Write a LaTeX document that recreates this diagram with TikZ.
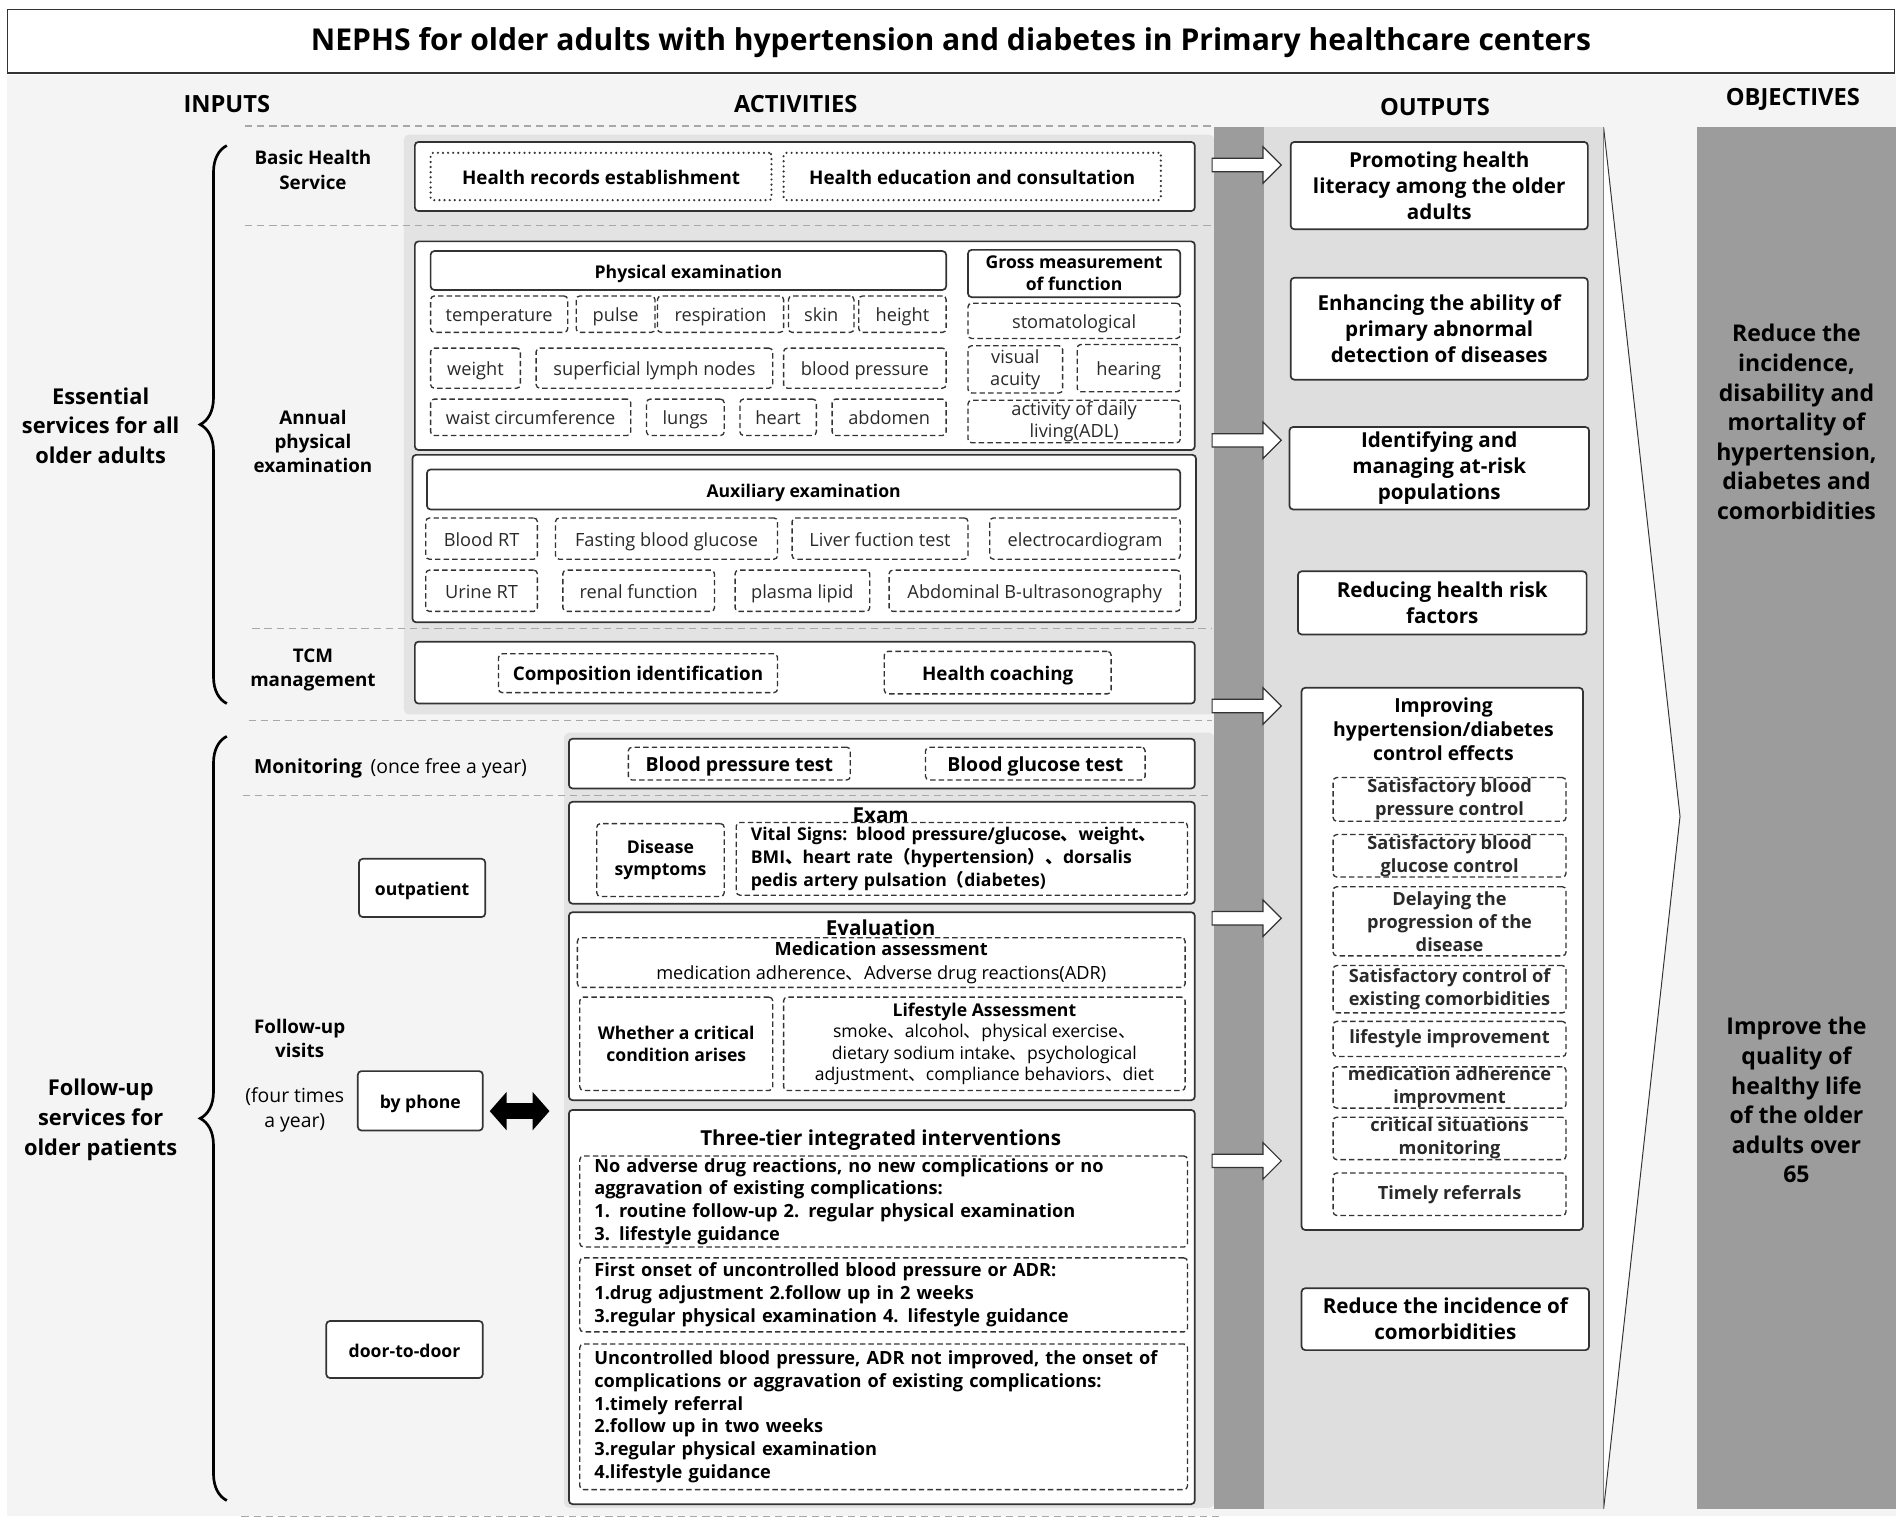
\documentclass[tikz,border=0pt]{standalone}
\usepackage{fontspec}
\setmainfont{Open Sans}
\newfontfamily\cjk{Noto Sans CJK SC}
\usetikzlibrary{shapes.arrows,decorations.pathreplacing,arrows.meta}

\definecolor{bgcol}{HTML}{F4F4F4}
\definecolor{panelcol}{HTML}{E3E3E3}
\definecolor{outcol}{HTML}{DEDEDE}
\definecolor{darkcol}{HTML}{9C9C9C}
\definecolor{linecol}{HTML}{333333}
\definecolor{sepcol}{HTML}{A8A8A8}
\definecolor{txtcol}{HTML}{2A2A2A}

\newcommand{\fsz}[2]{\fontsize{#1}{#2}\selectfont}
\newcommand{\zcomma}{{\cjk 、}}
\newcommand{\zlparen}{{\cjk （}}
\newcommand{\zrparen}{{\cjk ）}}

\begin{document}
\begin{tikzpicture}[x=1pt,y=-1pt,
    solidbox/.style={draw=linecol,line width=1.4pt,fill=white,rounded corners=3pt,inner sep=0pt,align=center},
    dashbox/.style={draw=linecol,line width=1.1pt,dash pattern=on 4.5pt off 2.6pt,rounded corners=3pt,inner sep=0pt,align=center},
    dotbox/.style={draw=linecol,line width=2pt,dash pattern=on 0pt off 4.2pt,line cap=round,rounded corners=2pt,inner sep=0pt,align=center},
    oneline/.style={text height=14pt,text depth=1.5pt},
    sepline/.style={draw=sepcol,line width=1.1pt,dash pattern=on 6pt off 4pt},
    hollowarrow/.style={single arrow,draw=linecol,fill=white,line width=1pt,inner xsep=0pt,inner ysep=5pt,
      minimum height=57,minimum width=29,single arrow head extend=9.5,single arrow tip angle=90},
    fatdouble/.style={line width=13pt,{Triangle[length=14pt,width=31pt]}-{Triangle[length=14pt,width=31pt]}},
    titlef/.style={font=\fsz{24.8}{28}\bfseries},
    headf/.style={font=\fsz{19.5}{23}\bfseries},
    bigf/.style={font=\fsz{18}{24.5}\bfseries,align=center},
    objf/.style={font=\fsz{19}{24.4}\bfseries,align=center},
    secf/.style={font=\fsz{15.5}{20}\bfseries,align=center},
    boxf/.style={font=\fsz{15.5}{19}\bfseries},
    subf/.style={font=\fsz{14.5}{18}\bfseries},
    itemf/.style={font=\fsz{15}{18},text=txtcol},
    outf/.style={font=\fsz{17}{21.5}\bfseries},
    tierf/.style={font=\fsz{15}{18.7}\bfseries},
  ]
\useasboundingbox (0,0) rectangle (1568,1255.5);

% title and background
\node[draw=linecol,line width=1.2pt,minimum width=1556,minimum height=52,inner sep=0pt,titlef,text height=21pt,text depth=5pt] (title) at (784,34)
  {NEPHS for older adults with hypertension and diabetes in Primary healthcare centers};
\fill[bgcol] (6,62) rectangle (1563,1250);
\fill[panelcol,rounded corners=4pt] (333,111) rectangle (1001,589);
\fill[panelcol,rounded corners=4pt] (465,604) rectangle (1001,1243);
\fill[darkcol] (1001,105) rectangle (1042,1244);
\fill[outcol] (1042,105) rectangle (1322,1244);
\fill[darkcol] (1399,105) rectangle (1563,1244);
\filldraw[fill=white,draw=linecol,line width=0.8pt] (1322,105) -- (1385,673) -- (1322,1244);
\draw[gray,line width=0.8pt] (1322,105) -- (1322,1244);

\foreach \y/\xa in {104/202,186/202,518/208,594/205,656/200}
  \draw[sepline] (\xa,\y) -- (999,\y);
\draw[sepline] (199,1250) -- (1008,1250);

% column heads
\node[headf] (hinput) at (187,86) {INPUTS};
\node[headf] (hactiv) at (656,86) {ACTIVITIES};
\node[headf] (houtput) at (1183,88) {OUTPUTS};
\node[headf] (hobject) at (1478,82) {OBJECTIVES};

% inputs
\node[bigf] (essential) at (83,351) {Essential\\services for all\\older adults};
\node[bigf] (followup) at (83,923) {Follow-up\\services for\\older patients};
\coordinate (braceAtop) at (187,120);
\coordinate (braceAbot) at (187,580);
\coordinate (braceBtop) at (187,607);
\coordinate (braceBbot) at (187,1237);
\draw[line width=2.2pt,decorate,decoration={brace,amplitude=22pt}] (braceAbot) -- (braceAtop);
\draw[line width=2.2pt,decorate,decoration={brace,amplitude=22pt}] (braceBbot) -- (braceBtop);

\node[secf] (basiclab) at (258,140) {Basic Health\\Service};
\node[secf] (annuallab) at (258,364) {Annual\\physical\\examination};
\node[secf] (tcmlab) at (258,552) {TCM\\management};
\node[anchor=west,font=\fsz{16}{20},oneline] (monlab) at (206,631) {{\bfseries Monitoring}\hspace{7pt}(once free a year)};
\node[secf] (visitlab) at (247,856) {Follow-up\\visits};
\node[font=\fsz{16}{20},align=center] (timeslab) at (243,915) {(four times\\a year)};

\node[solidbox,subf,oneline,minimum width=104,minimum height=48] (outpat) at (348,732) {outpatient};
\node[solidbox,subf,oneline,minimum width=103,minimum height=49] (phone) at (346.5,907.5) {by phone};
\node[solidbox,subf,oneline,minimum width=129,minimum height=47] (door) at (333.5,1112.5) {door-to-door};

% basic health service
\node[solidbox,minimum width=643,minimum height=57] (basic) at (663.5,145.5) {};
\node[dotbox,boxf,oneline,minimum width=281,minimum height=39] (records) at (495.5,145.5) {Health records establishment};
\node[dotbox,boxf,oneline,minimum width=311,minimum height=39] (educ) at (801.5,145.5) {Health education and consultation};

% annual physical examination
\node[solidbox,minimum width=643,minimum height=172] (annual) at (663.5,285) {};
\node[solidbox,subf,oneline,minimum width=425,minimum height=32] (physhead) at (567.5,223) {Physical examination};
\node[solidbox,subf,minimum width=175,minimum height=39] (grosshead) at (885.5,225.5) {Gross measurement\\of function};
\foreach \nm/\cx/\w/\txt in {temp/411.5/113/temperature,pulse/507.5/65/pulse,resp/594/104/respiration,
    skin/677/54/skin,height/744/72/height}
  \node[dashbox,itemf,oneline,minimum width=\w,minimum height=30] (\nm) at (\cx,259) {\txt};
\foreach \nm/\cx/\w/\txt in {weight/392/74/weight,lymph/539.5/195/superficial lymph nodes,bp/713/134/blood pressure}
  \node[dashbox,itemf,oneline,minimum width=\w,minimum height=33] (\nm) at (\cx,303.5) {\txt};
\foreach \nm/\cx/\w/\txt in {waist/437.5/165/waist circumference,lungs/565/64/lungs,heart/641.5/63/heart,abdomen/733/94/abdomen}
  \node[dashbox,itemf,oneline,minimum width=\w,minimum height=30] (\nm) at (\cx,344) {\txt};
\node[dashbox,itemf,oneline,minimum width=175,minimum height=29] (stomat) at (885.5,264.5) {stomatological};
\node[dashbox,itemf,minimum width=78,minimum height=39] (visual) at (837,304.5) {visual\\acuity};
\node[dashbox,itemf,oneline,minimum width=85,minimum height=39] (hearing) at (930.5,303.5) {hearing};
\node[dashbox,itemf,minimum width=175,minimum height=35] (adl) at (885.5,347.5) {activity of daily\\living(ADL)};

% auxiliary examination
\node[solidbox,minimum width=646,minimum height=138] (aux) at (663,444) {};
\node[solidbox,subf,oneline,minimum width=621,minimum height=33] (auxhead) at (662.5,403.5) {Auxiliary examination};
\foreach \nm/\cx/\w/\txt in {bloodrt/397/92/Blood RT,fbg/549.5/183/Fasting blood glucose,
    liver/725.5/145/Liver fuction test,ecg/894.5/157/electrocardiogram}
  \node[dashbox,itemf,oneline,minimum width=\w,minimum height=34] (\nm) at (\cx,444) {\txt};
\foreach \nm/\cx/\w/\txt in {urine/397/92/Urine RT,renal/526.5/125/renal function,
    lipid/661.5/111/plasma lipid,bus/853/240/Abdominal B-ultrasonography}
  \node[dashbox,itemf,oneline,minimum width=\w,minimum height=34] (\nm) at (\cx,487) {\txt};

% TCM management
\node[solidbox,minimum width=643,minimum height=51] (tcm) at (663.5,554.5) {};
\node[dashbox,boxf,oneline,minimum width=230,minimum height=32] (compid) at (526,555) {Composition identification};
\node[dashbox,boxf,oneline,minimum width=187,minimum height=35] (coach) at (822.5,554.5) {Health coaching};

% monitoring
\node[solidbox,minimum width=516,minimum height=41] (monitor) at (727,629.5) {};
\node[dashbox,font=\fsz{16}{19}\bfseries,oneline,minimum width=183,minimum height=27] (bptest) at (609.5,629.5) {Blood pressure test};
\node[dashbox,font=\fsz{16}{19}\bfseries,oneline,minimum width=181,minimum height=27] (bgtest) at (853.5,629.5) {Blood glucose test};

% follow-up: exam
\node[solidbox,minimum width=516,minimum height=84] (exam) at (727,703) {};
\node[anchor=base,font=\fsz{17}{20}\bfseries] (examlab) at (726,678) {Exam};
\node[dashbox,subf,minimum width=105,minimum height=60] (symptom) at (544.5,709) {Disease\\symptoms};
\node[dashbox,font=\fsz{14.5}{19}\bfseries,minimum width=372,minimum height=60,text width=348,inner xsep=12pt,align=left] (vital) at (793,708)
  {Vital Signs: blood pressure/glucose\zcomma weight\zcomma\\BMI\zcomma heart rate\zlparen hypertension\zrparen\zcomma dorsalis\\pedis artery pulsation\zlparen diabetes)};

% follow-up: evaluation
\node[solidbox,minimum width=516,minimum height=155] (evalbox) at (727,829.5) {};
\node[anchor=base,font=\fsz{17}{20}\bfseries] (evallab) at (726,771) {Evaluation};
\node[dashbox,font=\fsz{15}{20},minimum width=501,minimum height=41] (medass) at (726.5,793.5)
  {{\bfseries Medication assessment}\\medication adherence\zcomma Adverse drug reactions(ADR)};
\node[dashbox,subf,minimum width=159,minimum height=77] (critical) at (557.5,860.5) {Whether a critical\\condition arises};
\node[dashbox,font=\fsz{14.5}{17.6},minimum width=331,minimum height=77] (lifeass) at (811.5,860.5)
  {{\bfseries Lifestyle Assessment}\\smoke\zcomma alcohol\zcomma physical exercise\zcomma\\dietary sodium intake\zcomma psychological\\adjustment\zcomma compliance behaviors\zcomma diet};

% follow-up: interventions
\node[solidbox,minimum width=516,minimum height=325] (interv) at (727,1077.5) {};
\node[anchor=base,font=\fsz{17}{20}\bfseries] (intervlab) at (726,944) {Three-tier integrated interventions};
\node[dashbox,tierf,minimum width=501,minimum height=75,text width=477,inner xsep=12pt,align=left] (tier1) at (728.5,990.5)
  {No adverse drug reactions, no new complications or no\\aggravation of existing complications:\\1. routine follow-up 2. regular physical examination\\3. lifestyle guidance};
\node[dashbox,tierf,minimum width=501,minimum height=61,text width=477,inner xsep=12pt,align=left] (tier2) at (728.5,1067.5)
  {First onset of uncontrolled blood pressure or ADR:\\1.drug adjustment 2.follow up in 2 weeks\\3.regular physical examination 4. lifestyle guidance};
\node[dashbox,tierf,minimum width=501,minimum height=120,text width=477,inner xsep=12pt,align=left] (tier3) at (728.5,1168)
  {Uncontrolled blood pressure, ADR not improved, the onset of\\complications or aggravation of existing complications:\\1.timely referral\\2.follow up in two weeks\\3.regular physical examination\\4.lifestyle guidance};

\coordinate (phoneend) at (453,916);
\draw[fatdouble] ([shift={(5,8.5)}]phone.east) -- (phoneend);

% outputs
\foreach \nm/\y in {arrA/136,arrB/363,arrC/582,arrD/757,arrE/957}
  \node[hollowarrow] (\nm) at (1025,\y) {};
\node[solidbox,outf,minimum width=245,minimum height=72] (promote) at (1186.5,153) {Promoting health\\literacy among the older\\adults};
\node[solidbox,outf,minimum width=245,minimum height=84] (enhance) at (1186.5,271) {Enhancing the ability of\\primary abnormal\\detection of diseases};
\node[solidbox,outf,minimum width=247,minimum height=68] (identify) at (1186.5,386) {Identifying and\\managing at-risk\\populations};
\node[solidbox,outf,minimum width=238,minimum height=52] (riskfac) at (1189,497) {Reducing health risk\\factors};
\node[solidbox,minimum width=232,minimum height=447] (improve) at (1189,790.5) {};
\node[font=\fsz{16}{20}\bfseries,align=center] (improvelab) at (1190,601) {Improving\\hypertension/diabetes\\control effects};
\foreach \nm/\cy/\h/\txt in {sbp/659/36/Satisfactory blood\\pressure control,
    sbg/705.5/35/Satisfactory blood\\glucose control,
    delay/759.5/57/Delaying the\\progression of the\\disease,
    scom/815.5/39/Satisfactory control of\\existing comorbidities,
    lifeimp/856.5/29/lifestyle improvement,
    madh/896.5/33/medication adherence\\improvment,
    crit/938.5/35/critical situations\\monitoring,
    refer/984.5/35/Timely referrals}
  \node[dashbox,font=\fsz{15}{19}\bfseries,text=txtcol,minimum width=192,minimum height=\h] (\nm) at (1195,\cy) {\txt};
\node[solidbox,outf,minimum width=237,minimum height=51] (comorb) at (1191.5,1087.5) {Reduce the incidence of\\comorbidities};

% objectives
\node[objf] (objA) at (1481,348) {Reduce the\\incidence,\\disability and\\mortality of\\hypertension,\\diabetes and\\comorbidities};
\node[objf] (objB) at (1481,907) {Improve the\\quality of\\healthy life\\of the older\\adults over\\65};
\end{tikzpicture}
\end{document}
